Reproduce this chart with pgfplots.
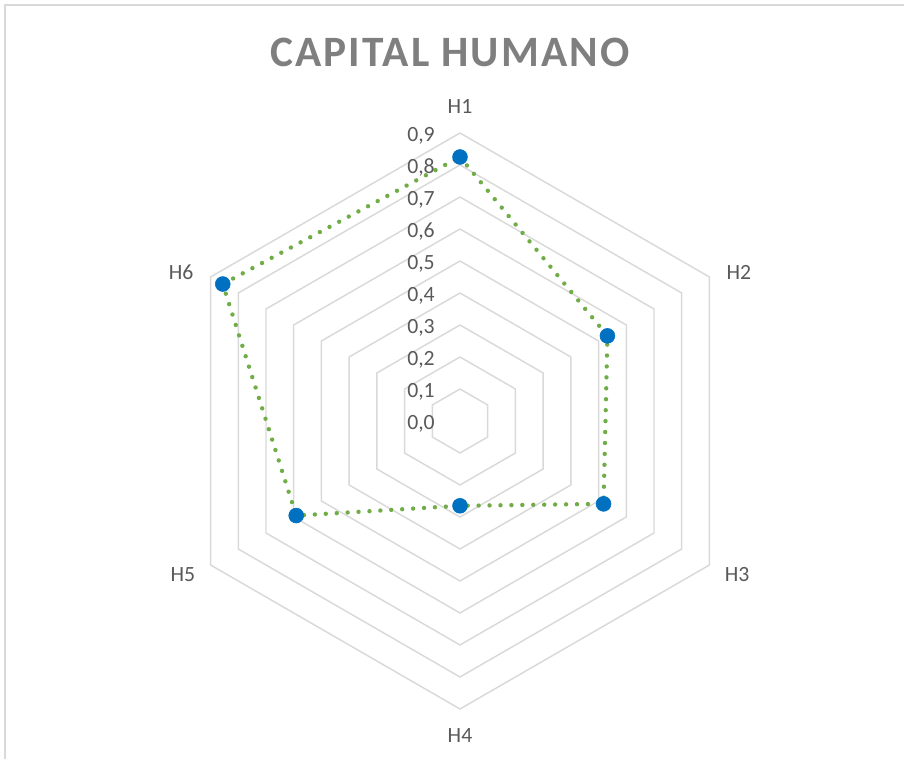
\documentclass[border=0pt]{standalone}
\usepackage{fontspec}
\setmainfont{Carlito}
\newfontfamily\titlefont[LetterSpace=5]{Carlito}
\usepackage{pgfplots}
\usepgfplotslibrary{polar}
\pgfplotsset{compat=1.18}
\definecolor{gridc}{HTML}{D9D9D9}
\definecolor{serg}{HTML}{70AD47}
\definecolor{mblue}{HTML}{0070C0}
\definecolor{txt}{HTML}{595959}
\definecolor{ttl}{HTML}{7F7F7F}
\begin{document}
\begin{tikzpicture}
\begin{polaraxis}[
  hide axis, scale only axis, width=432pt, height=432pt,
  xmin=0, xmax=360, ymin=0, ymax=0.9, clip=false,
  every axis plot/.append style={line join=miter},
]
% hexagonal grid
\foreach \r in {0.1,0.2,0.3,0.4,0.5,0.6,0.7,0.8,0.9}{
  \edef\tmp{\noexpand\addplot[gridc, line width=1.1pt, no marks] coordinates {(90,\r) (30,\r) (330,\r) (270,\r) (210,\r) (150,\r) (90,\r)};}
  \tmp
}
% series
\addplot[serg, line width=3.3pt, line cap=round, dash pattern=on 0pt off 8.2pt, no marks]
  coordinates {(90,0.825) (30,0.532) (330,0.518) (270,0.265) (210,0.591) (150,0.856) (90,0.825)};
\addplot[only marks, mark=*, mark size=5.6pt, mark options={fill=mblue, draw=mblue}]
  coordinates {(90,0.825) (30,0.532) (330,0.518) (270,0.265) (210,0.591) (150,0.856)};
% radial tick labels
\foreach \v/\l in {0/{0,0},0.1/{0,1},0.2/{0,2},0.3/{0,3},0.4/{0,4},0.5/{0,5},0.6/{0,6},0.7/{0,7},0.8/{0,8},0.9/{0,9}}{
  \edef\tmp{\noexpand\node[anchor=base east, text=txt, font=\noexpand\fontsize{16.3pt}{18pt}\noexpand\selectfont, inner sep=0pt] at ([xshift=-18.75pt, yshift=-6.5pt]axis cs:90,\v) {\l};}
  \tmp
}
% category labels
\node[text=txt, font=\fontsize{16.3pt}{18pt}\selectfont, inner sep=0pt] at (axis cs:90,0.984) {H1};
\node[text=txt, font=\fontsize{16.3pt}{18pt}\selectfont, inner sep=0pt] at (axis cs:28,0.987) {H2};
\node[text=txt, font=\fontsize{16.3pt}{18pt}\selectfont, inner sep=0pt] at (axis cs:331,0.99) {H3};
\node[text=txt, font=\fontsize{16.3pt}{18pt}\selectfont, inner sep=0pt] at (axis cs:270,0.984) {H4};
\node[text=txt, font=\fontsize{16.3pt}{18pt}\selectfont, inner sep=0pt] at (axis cs:209,0.99) {H5};
\node[text=txt, font=\fontsize{16.3pt}{18pt}\selectfont, inner sep=0pt] at (axis cs:152,0.987) {H6};
\coordinate (c) at (axis cs:0,0);
\end{polaraxis}
\path[use as bounding box] ([shift={(-345pt,-253.5pt)}]c) rectangle ([shift={(333pt,315.75pt)}]c);
\draw[gridc, line width=1.1pt] ([shift={(-341.25pt,-260pt)}]c) -- ([shift={(-341.25pt,312pt)}]c) -- ([shift={(340pt,312pt)}]c);
\node[text=ttl, font=\titlefont\bfseries\fontsize{32.5pt}{36pt}\selectfont, inner sep=0pt] at ([shift={(-7.5pt,276.75pt)}]c) {CAPITAL HUMANO};
\end{tikzpicture}
\end{document}
